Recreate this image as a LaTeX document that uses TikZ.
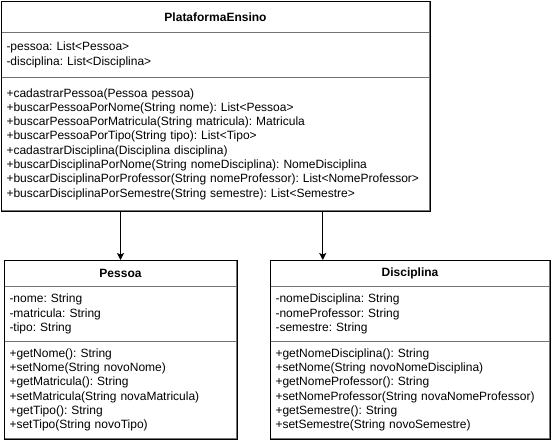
\documentclass[tikz,border=0pt]{standalone}
\usepackage{fontspec}
\setmainfont{Liberation Sans}
\usetikzlibrary{arrows.meta,calc}
\frenchspacing

\begin{document}
\begin{tikzpicture}[x=1pt,y=-1pt]
  \tikzset{caixa/.style = {draw=black!55, line width=1pt, anchor=north west, inner xsep=5pt, inner ysep=0pt, align=left, font=\fontsize{12}{14.3}\selectfont}}
  \tikzset{titulo/.style = {caixa, align=center, font=\fontsize{12}{14.3}\selectfont\bfseries}}
  \tikzset{borda/.style = {draw=black, line width=1pt}}
  \tikzset{seta/.style = {-{Stealth[length=7pt,width=7pt,inset=1.5pt]}, line width=1pt}}

  \useasboundingbox (0,0) rectangle (551,442);

  % PlataformaEnsino
  \node[titulo, text width=418pt, minimum height=31pt] (ensTit) at (1,1) {PlataformaEnsino};
  \node[caixa, text width=418pt, minimum height=45pt] (ensAtr) at (1,32) {-pessoa: List<Pessoa>\\-disciplina: List<Disciplina>};
  \node[caixa, text width=418pt, minimum height=133pt] (ensMet) at (1,77) {+cadastrarPessoa(Pessoa pessoa)\\
    +buscarPessoaPorNome(String nome): List<Pessoa>\\
    +buscarPessoaPorMatricula(String matricula): Matricula\\
    +buscarPessoaPorTipo(String tipo): List<Tipo>\\
    +cadastrarDisciplina(Disciplina disciplina)\\
    +buscarDisciplinaPorNome(String nomeDisciplina): NomeDisciplina\\
    +buscarDisciplinaPorProfessor(String nomeProfessor): List<NomeProfessor>\\
    +buscarDisciplinaPorSemestre(String semestre): List<Semestre>};

  % Pessoa
  \node[titulo, text width=222pt, minimum height=26pt] (pesTit) at (4,260) {Pessoa};
  \node[caixa, text width=222pt, minimum height=55pt] (pesAtr) at (4,286) {-nome: String\\-matricula: String\\-tipo: String};
  \node[caixa, text width=222pt, minimum height=97pt] (pesMet) at (4,341) {+getNome(): String\\
    +setNome(String novoNome)\\
    +getMatricula(): String\\
    +setMatricula(String novaMatricula)\\
    +getTipo(): String\\
    +setTipo(String novoTipo)};

  % Disciplina
  \node[titulo, text width=269pt, minimum height=26pt] (disTit) at (270,260) {Disciplina};
  \node[caixa, text width=269pt, minimum height=55pt] (disAtr) at (270,286) {-nomeDisciplina: String\\-nomeProfessor: String\\-semestre: String};
  \node[caixa, text width=269pt, minimum height=97pt] (disMet) at (270,341) {+getNomeDisciplina(): String\\
    +setNome(String novoNomeDisciplina)\\
    +getNomeProfessor(): String\\
    +setNomeProfessor(String novaNomeProfessor)\\
    +getSemestre(): String\\
    +setSemestre(String novoSemestre)};

  % bordas
  \foreach \c in {ens,pes,dis}
  {
    \draw[borda] (\c Tit.north west) rectangle (\c Met.south east);
  }

  % setas
  \coordinate (dSaida) at ($(ensMet.south west)!0.75!(ensMet.south east)$);
  \draw[seta] (ensMet.south -| pesTit.north) -- (pesTit.north);
  \draw[seta] (dSaida) -- (dSaida |- disTit.north);

\end{tikzpicture}
\end{document}
